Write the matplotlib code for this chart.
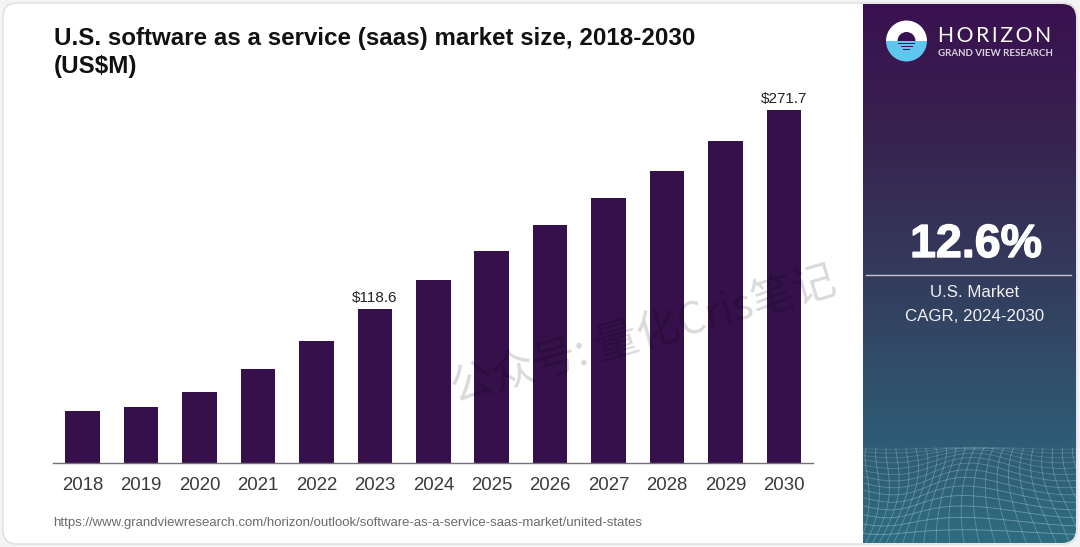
import numpy as np
import matplotlib
matplotlib.use('Agg')
import matplotlib.pyplot as plt
import matplotlib.patheffects as pe
from matplotlib.colors import LinearSegmentedColormap
from matplotlib.patches import FancyBboxPatch, Wedge, Rectangle

plt.rcParams['font.family'] = ['Liberation Sans', 'DejaVu Sans']

years = ['2018', '2019', '2020', '2021', '2022', '2023', '2024',
         '2025', '2026', '2027', '2028', '2029', '2030']
market_size = [40.0, 43.1, 54.6, 72.4, 93.9, 118.6, 140.9,
               162.8, 183.2, 204.0, 224.8, 247.5, 271.7]
bar_labels = {'2023': '$118.6', '2030': '$271.7'}

title_text = 'U.S. software as a service (saas) market size, 2018-2030\n(US$M)'
source_text = 'https://www.grandviewresearch.com/horizon/outlook/software-as-a-service-saas-market/united-states'
watermark = '公众号: 量化Cris笔记'
cagr = '12.6%'
cagr_label = 'U.S. Market\nCAGR, 2024-2030'

W, H = 1080, 547
BAR_COLOR = '#35104a'
DARK = '#3a1150'

fig = plt.figure(figsize=(W / 100, H / 100), dpi=100, facecolor='#f4f4f4')

# background layer in pixel coords
bg = fig.add_axes([0, 0, 1, 1], zorder=0)
bg.set_xlim(0, W)
bg.set_ylim(H, 0)
bg.axis('off')

card = FancyBboxPatch((3, 3), W - 6, H - 6, boxstyle='round,pad=0,rounding_size=14',
                      fc='white', ec='#dedede', lw=1)
bg.add_patch(card)

# side panel
panel_clip = FancyBboxPatch((830, 4), 246, 539, boxstyle='round,pad=0,rounding_size=14',
                            fc='none', ec='none', transform=bg.transData)
bg.add_patch(panel_clip)
stops = [(0.0, DARK), (0.25, '#37234f'), (0.55, '#33405f'), (0.8, '#2f5a75'), (1.0, '#2f6c80')]
cmap = LinearSegmentedColormap.from_list('panel', stops)
grad = np.linspace(0, 1, 256).reshape(-1, 1)
im = bg.imshow(grad, cmap=cmap, extent=(863, 1076, 543, 4), aspect='auto', zorder=2)
im.set_clip_path(panel_clip)
bg.set_xlim(0, W)
bg.set_ylim(H, 0)


def mesh_xy(u, v):
    # rough wavy net for the panel decoration
    x = 863 + u * 213 + 18 * np.sin(v * 3 + u * 5) * v - 25 * (1 - v) * (u - 0.5)
    y = 448 + 95 * v ** 1.7 + 9 * np.sin(u * 7 + 1) * v * (1 - v) * 4
    return x, np.maximum(y, 448)


for v0 in np.linspace(0.03, 1, 15):
    u = np.linspace(-0.1, 1.1, 120)
    x, y = mesh_xy(u, np.full_like(u, v0))
    line, = bg.plot(x, y, color='#a9cdd3', lw=0.6, alpha=0.2 + 0.35 * v0, zorder=3)
    line.set_clip_path(panel_clip)
for u0 in np.linspace(-0.1, 1.1, 24):
    v = np.linspace(0, 1, 60)
    x, y = mesh_xy(np.full_like(v, u0), v)
    line, = bg.plot(x, y, color='#a9cdd3', lw=0.6, alpha=0.4, zorder=3)
    line.set_clip_path(panel_clip)
# mesh runs past the panel's left edge, hide that part
bg.add_patch(Rectangle((835, 430), 28, 113, fc='white', ec='none', zorder=3.5))

# logo, y axis is flipped so the upper half is the 180-360 wedge
bg.add_patch(Wedge((906.5, 41), 20.5, 180, 360, fc='white', ec='none', zorder=4))
bg.add_patch(Wedge((906.5, 41), 20.5, 0, 180, fc='#5fc6f0', ec='none', zorder=4))
bg.add_patch(Wedge((906.5, 41), 9, 180, 360, fc=DARK, ec='none', zorder=5))
bg.add_patch(Rectangle((898, 42.5), 17, 1.8, fc=DARK, zorder=5))
bg.add_patch(Rectangle((900.5, 45.5), 12, 1.8, fc=DARK, zorder=5))
bg.add_patch(Rectangle((903, 48.5), 7, 1.8, fc=DARK, zorder=5))

bg.text(938, 36, '\u2009'.join('HORIZON'), color='white', fontsize=15.2, va='center', ha='left',
        family=['Lato', 'DejaVu Sans'], zorder=5)
bg.text(938, 53, 'GRAND VIEW RESEARCH', color='#d8d2de', fontsize=7, va='center', ha='left',
        family='Lato', fontweight='bold', zorder=5)

big = bg.text(976, 245, cagr, color='white', fontsize=33.5, fontweight='bold', ha='center', va='center', zorder=5)
big.set_path_effects([pe.withStroke(linewidth=1, foreground='white')])
bg.plot([866, 1071], [275, 275], color='#c9c6d2', lw=1, zorder=5)
bg.text(975, 304.5, cagr_label, color='#f0f0f4', fontsize=12.2, ha='center', va='center',
        linespacing=1.72, zorder=5)

# chart
left, right, top, base = 53, 813, 100, 463
ax = fig.add_axes([left / W, 1 - base / H, (right - left) / W, (base - top) / H], zorder=1)
ax.patch.set_alpha(0)
xpos = np.arange(len(years))
ax.bar(xpos, market_size, width=0.59, color=BAR_COLOR, edgecolor='none')
ax.set_xlim(-0.505, 12.496)
ax.set_ylim(0, (base - top) / 1.2992)
ax.set_xticks(xpos)
ax.set_xticklabels(years, fontsize=13.4, color='#3a3a3a')
ax.tick_params(axis='x', length=0, pad=10)
ax.set_yticks([])
for s in ['top', 'left', 'right']:
    ax.spines[s].set_visible(False)
ax.spines['bottom'].set_color('#77707c')
ax.spines['bottom'].set_linewidth(1)

for i, year in enumerate(years):
    if year in bar_labels:
        ax.annotate(bar_labels[year], (i, market_size[i]), xytext=(0, 3), textcoords='offset points',
                    ha='center', va='bottom', fontsize=11, color='#222222')

fig.text(54 / W, 1 - 52.5 / H, title_text, fontsize=17.4, fontweight='bold', color='#111111',
         ha='left', va='center', linespacing=1.27, zorder=2)
fig.text(53 / W, 1 - 523 / H, source_text, fontsize=9.42, color='#6a6a6a', ha='left', va='center', zorder=2)

# watermark sits over the bars, only just darkens them
fig.text(643 / W, 1 - 335 / H, watermark, rotation=16, fontsize=31, color='black', alpha=0.15,
         ha='center', va='center', rotation_mode='anchor', zorder=3,
         family=['Noto Sans CJK SC', 'DejaVu Sans'])

fig.savefig('out.png', dpi=100, facecolor=fig.get_facecolor())
